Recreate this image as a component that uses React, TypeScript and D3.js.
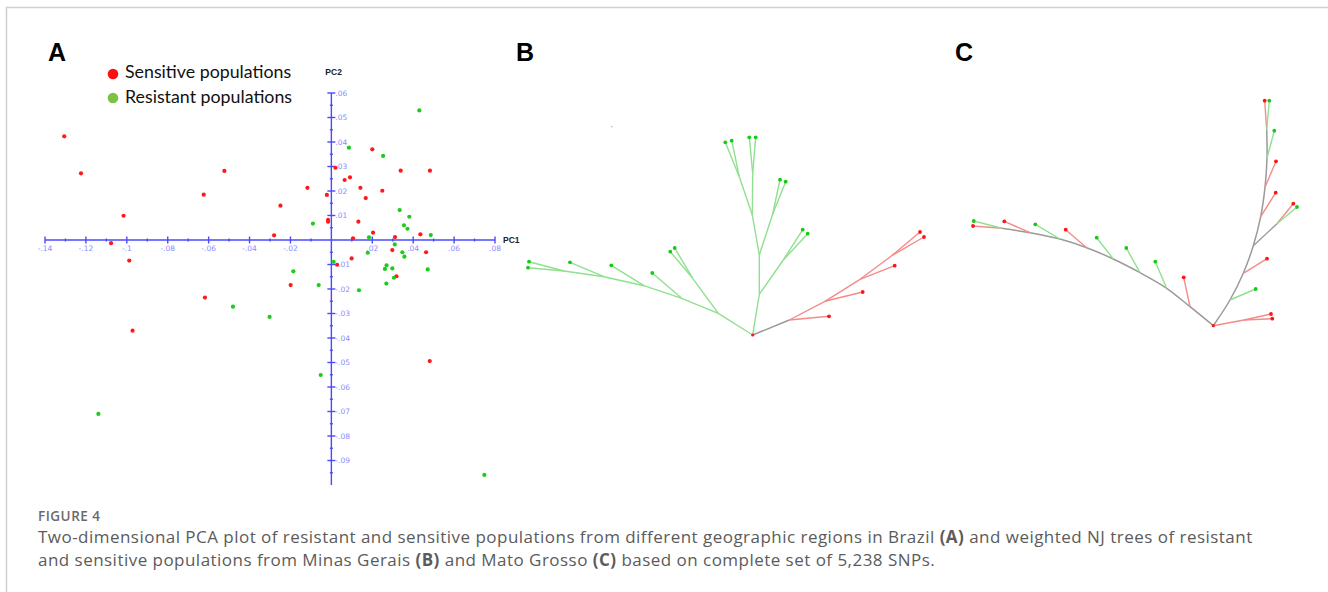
import * as d3 from "d3";

// ---- Panel A: PCA scores (PC1, PC2) ----
const sensitive: [number, number][] = [
  [-0.1306, 0.0423], [-0.1224, 0.0272], [-0.0523, 0.0282], [-0.0624, 0.0185],
  [-0.1016, 0.0099], [-0.0117, 0.0213], [-0.0249, 0.014], [-0.0022, 0.0184],
  [-0.0016, 0.0082], [-0.0016, 0.0075], [-0.028, 0.0019], [-0.1077, -0.0013],
  [-0.0988, -0.0084], [0.02, 0.037], [0.002, 0.0295], [0.0339, 0.0283],
  [0.0482, 0.0283], [0.0091, 0.0256], [0.0065, 0.0245], [0.0142, 0.0213],
  [0.0249, 0.0201], [0.0168, 0.0171], [0.0132, 0.0075], [0.0204, 0.003],
  [0.0435, 0.0023], [0.0106, 0.0007], [0.0311, 0.0012], [0.0298, -0.0041],
  [0.0463, -0.005], [0.0099, -0.0075], [0.0028, -0.0101], [0.0318, -0.0148],
  [-0.0199, -0.0184], [0.0481, -0.0494], [-0.0618, -0.0235], [-0.0972, -0.037],
];

const resistant: [number, number][] = [
  [0.043, 0.0529], [0.0086, 0.0377], [0.0253, 0.0343], [0.0334, 0.0122],
  [0.0381, 0.0095], [-0.009, 0.0067], [0.0355, 0.006], [0.0372, 0.0046],
  [0.0486, 0.002], [0.0184, 0.0011], [0.031, -0.0018], [0.0178, -0.0052],
  [0.0347, -0.005], [0.0357, -0.0068], [0.0011, -0.0089], [-0.0186, -0.0128],
  [0.027, -0.0103], [0.0298, -0.0116], [0.0262, -0.0118], [0.0471, -0.012],
  [0.0306, -0.0154], [-0.0062, -0.0184], [0.0269, -0.0178], [0.0135, -0.0205],
  [-0.0052, -0.0551], [0.0748, -0.0959], [-0.0481, -0.0272], [-0.0302, -0.0314],
  [-0.1139, -0.071],
];

const xTickValues = [-0.14, -0.12, -0.1, -0.08, -0.06, -0.04, -0.02, 0.02, 0.04, 0.06, 0.08];
const xTickLabels = ["-.14", "-.12", "-.1", "-.08", "-.06", "-.04", "-.02", ".02", ".04", ".06", ".08"];
const yTickValues = [0.06, 0.05, 0.04, 0.03, 0.02, 0.01, -0.01, -0.02, -0.03, -0.04, -0.05, -0.06, -0.07, -0.08, -0.09];
const yTickLabels = [".06", ".05", ".04", ".03", ".02", ".01", "-.01", "-.02", "-.03", "-.04", "-.05", "-.06", "-.07", "-.08", "-.09"];

// ---- NJ trees: [id, parent, dx, dy, group] ; group s = sensitive, r = resistant, m = mixed ----
type TNode = [string, string | null, number, number, string];

const treeB: TNode[] = [
  ["root", null, 0, 0, "m"],
  ["n1", "root", 36.6, 15, "m"],
  ["s1", "n1", 76.3, 18.7, "s"],
  ["n2", "n1", 72.3, 33.7, "s"],
  ["s2", "n2", 110, 43, "s"],
  ["n3", "n2", 107.3, 55.7, "s"],
  ["s3", "n3", 142, 69.3, "s"],
  ["n4", "n3", 139, 79.3, "s"],
  ["s4", "n4", 167.3, 103, "s"],
  ["s5", "n4", 171.3, 98, "s"],
  ["g1", "root", -34.4, 21.7, "r"],
  ["g2", "g1", -71, 36.7, "r"],
  ["g3", "g2", -108.7, 49.3, "r"],
  ["g4", "g3", -148.7, 58.3, "r"],
  ["g5", "g4", -188.7, 64, "r"],
  ["r1", "g5", -223.7, 73.3, "r"],
  ["r2", "g5", -224.7, 67.3, "r"],
  ["r3", "g4", -182.7, 72.7, "r"],
  ["r4", "g3", -141.4, 69.7, "r"],
  ["r5", "g2", -100.4, 62, "r"],
  ["gb", "g1", -60, 56.7, "r"],
  ["r6", "gb", -82.4, 83.3, "r"],
  ["r7", "gb", -78, 87, "r"],
  ["u1", "root", 6.6, 40.7, "r"],
  ["ub", "u1", 30.6, 75, "r"],
  ["r8", "ub", 50, 105.3, "r"],
  ["r9", "ub", 55, 101.3, "r"],
  ["u2", "u1", 6.6, 80, "r"],
  ["u2b", "u2", 20, 121, "r"],
  ["r10", "u2b", 27.3, 155.3, "r"],
  ["r11", "u2b", 33, 153.3, "r"],
  ["u3", "u2", -0.4, 120, "r"],
  ["u3b", "u3", -13.4, 158.3, "r"],
  ["r12", "u3b", -27.4, 192.7, "r"],
  ["r13", "u3b", -21, 194.3, "r"],
  ["u4", "u3", 0, 161.7, "r"],
  ["r14", "u4", -3.4, 197.7, "r"],
  ["r15", "u4", 3, 197.7, "r"],
];

const treeC: TNode[] = [
  ["root", null, 0, 0, "m"],
  ["l1", "root", -23.3, 19, "m"],
  ["l2", "l1", -46.6, 37.4, "m"],
  ["l3", "l2", -73.3, 53, "m"],
  ["l4", "l3", -100, 66.7, "m"],
  ["l5", "l4", -126.6, 78, "m"],
  ["l6", "l5", -153.3, 86.7, "m"],
  ["l7", "l6", -183.3, 93, "m"],
  ["l8", "l7", -211.6, 97.4, "m"],
  ["a1", "l1", -29.6, 48.4, "s"],
  ["a2", "l2", -58, 64, "r"],
  ["a3", "l3", -87, 77.7, "r"],
  ["a4", "l4", -116.6, 88, "r"],
  ["a5", "l5", -147.6, 96, "s"],
  ["a6", "l6", -178, 101.4, "r"],
  ["a7", "l7", -209, 104.4, "s"],
  ["a8", "l8", -240.3, 99.7, "s"],
  ["a9", "l8", -239.6, 104.7, "r"],
  ["q0", "root", 30.7, 5.7, "s"],
  ["b1", "q0", 57.7, 11.7, "s"],
  ["b2", "q0", 59, 7, "s"],
  ["q1", "root", 16.7, 25.7, "m"],
  ["q2", "q1", 30, 52.4, "m"],
  ["q3", "q2", 40, 80, "m"],
  ["q4", "q3", 47.4, 109, "m"],
  ["q5", "q4", 51.7, 138.4, "m"],
  ["q6", "q5", 53.7, 167.4, "m"],
  ["q7", "q6", 53.4, 195.7, "m"],
  ["b3", "q1", 42.4, 36.7, "r"],
  ["b4", "q2", 53.7, 67, "s"],
  ["qb", "q3", 63.4, 101.7, "m"],
  ["b5", "qb", 80, 122, "s"],
  ["b6", "qb", 83.7, 118.7, "r"],
  ["b7", "q4", 62.4, 133, "s"],
  ["b8", "q5", 62.7, 164.4, "s"],
  ["b9", "q6", 61, 195, "r"],
  ["b10", "q7", 51.4, 225, "s"],
  ["b11", "q7", 56, 225, "r"],
];
const spineLeft = ["root", "l1", "l2", "l3", "l4", "l5", "l6", "l7", "l8"];
const spineRight = ["root", "q1", "q2", "q3", "q4", "q5", "q6", "q7"];

const edgeColor: Record<string, string> = { s: "#f58a8a", r: "#8fe08f", m: "#9a9a9a" };
const dotColor: Record<string, string> = { s: "#ff1414", r: "#14cc14" };

const W = 1328, H = 592;
const blue = "#4a4aff";

function Tree({ nodes, rootX, rootY, spines = [] as string[][] }: { nodes: TNode[]; rootX: number; rootY: number; spines?: string[][] }) {
  const sx = d3.scaleLinear().domain([-250, 250]).range([rootX - 250, rootX + 250]);
  const sy = d3.scaleLinear().domain([0, 250]).range([rootY, rootY - 250]);
  const byId = new Map(nodes.map((n) => [n[0], n]));
  const hasChild = new Set(nodes.map((n) => n[1]).filter(Boolean) as string[]);
  const spineEdges = new Set<string>();
  spines.forEach((sp) => sp.forEach((id, i) => i > 0 && spineEdges.add(id)));
  const curve = d3.line<TNode>().x((n) => sx(n[2])).y((n) => sy(n[3])).curve(d3.curveCatmullRom.alpha(0.5));
  return (
    <g>
      {spines.map((sp, i) => (
        <path key={"sp" + i} d={curve(sp.map((id) => byId.get(id)!)) || ""} fill="none" stroke={edgeColor.m} strokeWidth={1.5} />
      ))}
      {nodes.filter((n) => n[1] && !spineEdges.has(n[0])).map((n) => {
        const p = byId.get(n[1]!)!;
        return (
          <line key={n[0]} x1={sx(p[2])} y1={sy(p[3])} x2={sx(n[2])} y2={sy(n[3])} stroke={edgeColor[n[4]]} strokeWidth={1.4} />
        );
      })}
      {nodes.filter((n) => n[1] && !hasChild.has(n[0])).map((n) => (
        <circle key={"d" + n[0]} cx={sx(n[2])} cy={sy(n[3])} r={1.9} fill={dotColor[n[4]]} />
      ))}
      <circle cx={sx(0)} cy={sy(0)} r={1.6} fill={dotColor.s} />
    </g>
  );
}

export default function App() {
  const x = d3.scaleLinear().domain([-0.14, 0.08]).range([45, 495]);
  const y = d3.scaleLinear().domain([-0.1, 0.06]).range([485, 93]);
  const x0 = x(0), y0 = y(0);
  const xMinor = d3.range(-14, 9).map((i) => i / 100).filter((v, i) => i % 2 === 1);
  const yMinor = d3.range(-19, 12, 2).map((i) => i / 200);

  return (
    <svg width={W} height={H} style={{ position: "absolute", left: 0, top: 0, background: "#fff" }}>
      {/* frame */}
      <path d={`M6.5,${H} V7.5 H${W}`} fill="none" stroke="#d0d0d0" strokeWidth={1.5} />

      {/* panel letters */}
      <g fontFamily="Liberation Sans, Arial, sans-serif" fontWeight="bold" fontSize={25} fill="#000">
        <text x={48} y={61}>A</text>
        <text x={516} y={61}>B</text>
        <text x={955} y={61}>C</text>
      </g>

      {/* legend */}
      <circle cx={113} cy={74} r={5.3} fill="#ff1010" />
      <circle cx={113} cy={98} r={5.3} fill="#7cc242" />
      <g fontFamily="Lato, sans-serif" fontSize={17.8} fill="#111">
        <text x={125} y={78}>Sensitive populations</text>
        <text x={125} y={103}>Resistant populations</text>
      </g>

      {/* axes */}
      <g stroke={blue} strokeWidth={1.4}>
        <line x1={x(-0.14)} x2={x(0.08)} y1={y0} y2={y0} />
        <line x1={x0} x2={x0} y1={y(0.06)} y2={y(-0.1)} />
        {xTickValues.map((v) => (
          <line key={"xt" + v} x1={x(v)} x2={x(v)} y1={y0 - 3.5} y2={y0 + 3.5} />
        ))}
        {xMinor.map((v) => (
          <line key={"xm" + v} x1={x(v)} x2={x(v)} y1={y0 - 1.5} y2={y0 + 1.5} />
        ))}
        {yTickValues.map((v) => (
          <line key={"yt" + v} x1={x0 - 4} x2={x0 + 4} y1={y(v)} y2={y(v)} />
        ))}
        {yMinor.map((v) => (
          <line key={"ym" + v} x1={x0 - 1.5} x2={x0 + 1.5} y1={y(v)} y2={y(v)} />
        ))}
      </g>
      <g fontFamily="DejaVu Sans, sans-serif" fontSize={7.5} fill="#8c8cff">
        {xTickValues.map((v, i) => (
          <text key={"xl" + v} x={x(v)} y={y0 + 11} textAnchor="middle">{xTickLabels[i]}</text>
        ))}
        {yTickValues.map((v, i) => (
          <text key={"yl" + v} x={x0 + 4} y={y(v) + 2.5}>{yTickLabels[i]}</text>
        ))}
      </g>
      <g fontFamily="Liberation Sans, Arial, sans-serif" fontWeight="bold" fontSize={8.5} fill="#222">
        <text x={x0 - 6} y={75}>PC2</text>
        <text x={x(0.08) + 8} y={y0 + 3}>PC1</text>
      </g>

      {/* points */}
      {sensitive.map((d, i) => (
        <circle key={"s" + i} cx={x(d[0])} cy={y(d[1])} r={2.1} fill="#ff1a1a" />
      ))}
      {resistant.map((d, i) => (
        <circle key={"r" + i} cx={x(d[0])} cy={y(d[1])} r={2.1} fill="#1ccc1c" />
      ))}

      {/* panel B and C trees */}
      <circle cx={611.7} cy={126.7} r={0.8} fill="#aaaaff" />
      <Tree nodes={treeB} rootX={752.7} rootY={335} />
      <Tree nodes={treeC} rootX={1213.3} rootY={325.7} spines={[spineLeft, spineRight]} />

      {/* caption */}
      <g fontFamily="Open Sans, Noto Sans, sans-serif" fill="#5b5b5b">
        <text x={38} y={521} fontSize={13.5} fontWeight="600" fill="#6a6a6a" letterSpacing={0.5}>FIGURE 4</text>
        <text x={38} y={543} fontSize={17} letterSpacing={0.47}>
          Two-dimensional PCA plot of resistant and sensitive populations from different geographic regions in Brazil{" "}
          <tspan fontWeight="bold">(A)</tspan> and weighted NJ trees of resistant
        </text>
        <text x={38} y={566} fontSize={17} letterSpacing={0.47}>
          and sensitive populations from Minas Gerais <tspan fontWeight="bold">(B)</tspan> and Mato Grosso{" "}
          <tspan fontWeight="bold">(C)</tspan> based on complete set of 5,238 SNPs.
        </text>
      </g>
    </svg>
  );
}
